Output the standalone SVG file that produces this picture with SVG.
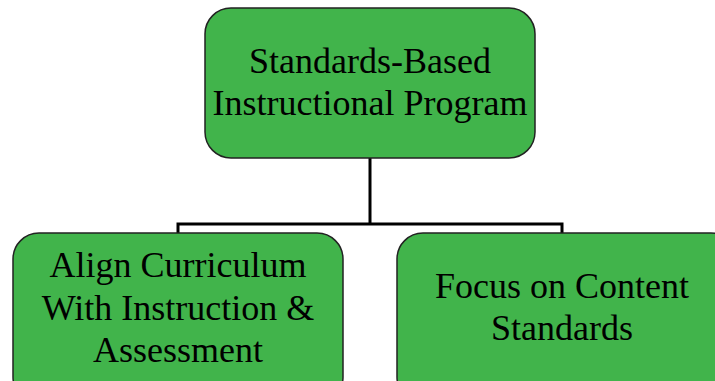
<svg xmlns="http://www.w3.org/2000/svg" width="715" height="381" viewBox="0 0 715 381">
<style>
.box{fill:#41b44b;stroke:#222;stroke-width:1.5}
.t{font-family:"Liberation Serif","Times New Roman",serif;font-size:36px;fill:#000;text-anchor:middle}
.c{fill:none;stroke:#000;stroke-width:3}
</style>
<rect width="715" height="381" fill="#fff"/>
<g id="connectors">
<path class="c" d="M370 158 V224"/>
<path class="c" d="M178 233 V224 H562 V233"/>
</g>
<g id="n1">
<rect class="box" x="205" y="8" width="330" height="150" rx="26"/>
<text class="t" x="370" y="73">Standards-Based</text>
<text class="t" x="370" y="115">Instructional Program</text>
</g>
<g id="n2">
<rect class="box" x="13" y="233" width="330" height="170" rx="26"/>
<text class="t" x="178" y="277">Align Curriculum</text>
<text class="t" x="178" y="320">With Instruction &amp;</text>
<text class="t" x="178" y="362">Assessment</text>
</g>
<g id="n3">
<rect class="box" x="397" y="233" width="340" height="170" rx="26"/>
<text class="t" x="562" y="298">Focus on Content</text>
<text class="t" x="562" y="340">Standards</text>
</g>
</svg>
